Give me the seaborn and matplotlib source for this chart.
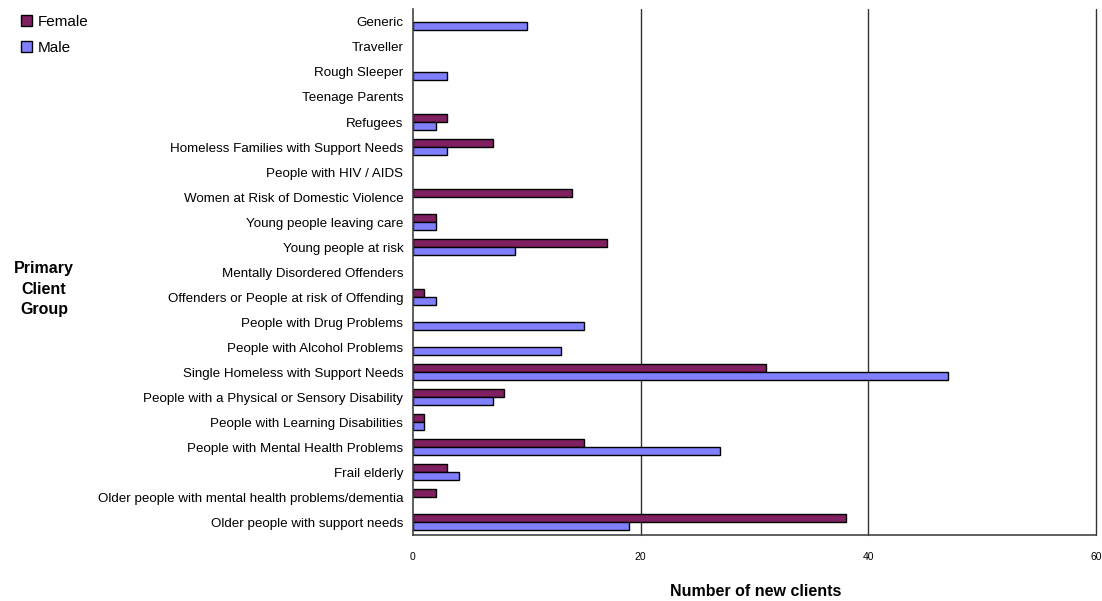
import matplotlib
matplotlib.use("Agg")
import matplotlib.pyplot as plt
import seaborn as sns
import pandas as pd
from matplotlib.patches import Patch

categories = [
    "Generic",
    "Traveller",
    "Rough Sleeper",
    "Teenage Parents",
    "Refugees",
    "Homeless Families with Support Needs",
    "People with HIV / AIDS",
    "Women at Risk of Domestic Violence",
    "Young people leaving care",
    "Young people at risk",
    "Mentally Disordered Offenders",
    "Offenders or People at risk of Offending",
    "People with Drug Problems",
    "People with Alcohol Problems",
    "Single Homeless with Support Needs",
    "People with a Physical or Sensory Disability",
    "People with Learning Disabilities",
    "People with Mental Health Problems",
    "Frail elderly",
    "Older people with mental health problems/dementia",
    "Older people with support needs",
]
female = [0, 0, 0, 0, 3, 7, 0, 14, 2, 17, 0, 1, 0, 0, 31, 8, 1, 15, 3, 2, 38]
male = [10, 0, 3, 0, 2, 3, 0, 0, 2, 9, 0, 2, 15, 13, 47, 7, 1, 27, 4, 0, 19]
series_names = ["Female", "Male"]
x_ticks = [0, 20, 40, 60]

df = pd.DataFrame({
    "group": categories * 2,
    "value": female + male,
    "sex": [series_names[0]] * len(categories) + [series_names[1]] * len(categories),
})

sns.set_theme(style="white")
plt.rcParams["font.family"] = ["Liberation Sans", "DejaVu Sans"]
plt.rcParams["text.color"] = "black"

colors = {"Female": "#802060", "Male": "#8080FF"}

fig = plt.figure(figsize=(11.02, 6.01), dpi=100)
ax = fig.add_axes([413 / 1102, 1 - 535 / 601, (1096 - 413) / 1102, (535 - 9.4) / 601])

sns.barplot(data=df, y="group", x="value", hue="sex", order=categories,
            hue_order=series_names, palette=colors, saturation=1, orient="h", width=0.64,
            edgecolor="black", linewidth=1.0, ax=ax, legend=False, errorbar=None)

for p in ax.patches:
    if p.get_width() == 0:
        p.set_visible(False)

ax.set_xlim(0, 60)
ax.set_xticks(x_ticks)
ax.set_xticklabels([str(t) for t in x_ticks])
ax.set_ylim(len(categories) - 0.5, -0.5)
for t in x_ticks[1:]:
    ax.axvline(t, color="#333333", linewidth=1.0, zorder=0, clip_on=False)

for s in ["top", "right"]:
    ax.spines[s].set_visible(False)
for s in ["left", "bottom"]:
    ax.spines[s].set_color("#444444")
    ax.spines[s].set_linewidth(1.2)

ax.tick_params(axis="y", length=0, pad=7, labelsize=9.6, colors="black")
ax.tick_params(axis="x", length=0, pad=12, labelsize=7.5, colors="black")
ax.set_ylabel("")
ax.set_xlabel("")

fig.text(756 / 1102, 1 - 591 / 601, "Number of new clients", ha="center", va="center",
         fontsize=11.5, fontweight="bold", color="black")
fig.text(44 / 1102, 1 - 289 / 601, "Primary\nClient\nGroup", ha="center", va="center",
         fontsize=11.5, fontweight="bold", linespacing=1.45, color="black")

handles = [Patch(facecolor=colors[n], edgecolor="black", linewidth=1.0, label=n) for n in series_names]
leg = fig.legend(handles=handles, loc="upper left", bbox_to_anchor=(15 / 1102, 1 - 9 / 601),
                 frameon=False, fontsize=11, handlelength=0.7, handleheight=0.7,
                 handletextpad=0.4, labelspacing=0.75, borderaxespad=0)
for t in leg.get_texts():
    t.set_color("black")

fig.savefig("out.png", dpi=100)
